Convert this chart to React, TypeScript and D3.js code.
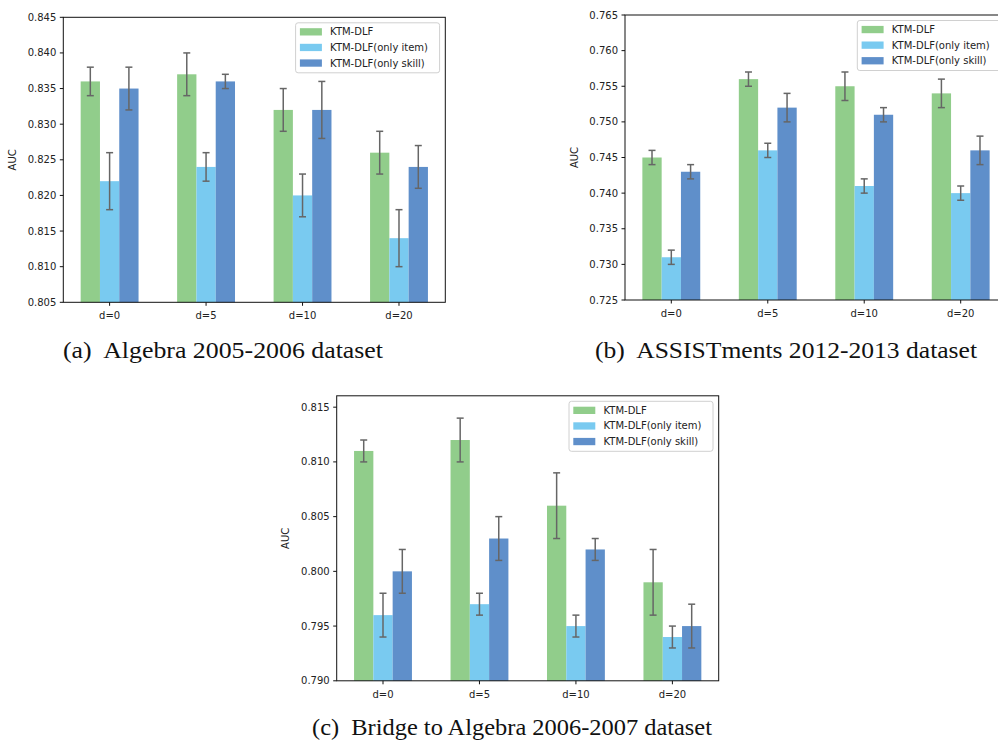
import * as d3 from "d3";

const categories = ["d=0", "d=5", "d=10", "d=20"];
const seriesNames = ["KTM-DLF", "KTM-DLF(only item)", "KTM-DLF(only skill)"];
const seriesColors = ["#91cd8b", "#79caf0", "#5f8fca"];

// (a) Algebra 2005-2006
const algebraFull = [0.836, 0.837, 0.832, 0.826];
const algebraFullErr = [0.002, 0.003, 0.003, 0.003];
const algebraItem = [0.822, 0.824, 0.82, 0.814];
const algebraItemErr = [0.004, 0.002, 0.003, 0.004];
const algebraSkill = [0.835, 0.836, 0.832, 0.824];
const algebraSkillErr = [0.003, 0.001, 0.004, 0.003];

// (b) ASSISTments 2012-2013
const assistFull = [0.745, 0.756, 0.755, 0.754];
const assistFullErr = [0.001, 0.001, 0.002, 0.002];
const assistItem = [0.731, 0.746, 0.741, 0.74];
const assistItemErr = [0.001, 0.001, 0.001, 0.001];
const assistSkill = [0.743, 0.752, 0.751, 0.746];
const assistSkillErr = [0.001, 0.002, 0.001, 0.002];

// (c) Bridge to Algebra 2006-2007
const bridgeFull = [0.811, 0.812, 0.806, 0.799];
const bridgeFullErr = [0.001, 0.002, 0.003, 0.003];
const bridgeItem = [0.796, 0.797, 0.795, 0.794];
const bridgeItemErr = [0.002, 0.001, 0.001, 0.001];
const bridgeSkill = [0.8, 0.803, 0.802, 0.795];
const bridgeSkillErr = [0.002, 0.002, 0.001, 0.002];

const W = 382;
const H = 285;
const barW = 0.2;
const offsets = [-barW, 0, barW];
const font = "'DejaVu Sans', sans-serif";

type PanelProps = {
  left: number;
  top: number;
  yDomain: [number, number];
  values: number[][];
  errors: number[][];
  caption: string;
  captionX: number;
  captionY: number;
  captionW: number;
};

function Panel({ left, top, yDomain, values, errors, caption, captionX, captionY, captionW }: PanelProps) {
  const x = d3.scaleLinear().domain([-0.48, 3.48]).range([0, W]);
  const y = d3.scaleLinear().domain(yDomain).range([H, 0]);
  const ticks = d3
    .range(Math.ceil(yDomain[0] / 0.005 - 1e-6), Math.floor(yDomain[1] / 0.005 + 1e-6) + 1)
    .map((k) => k * 0.005);
  const fmt = d3.format(".3f");
  const legendW = 144;
  const legendX = W - 5.7 - legendW;

  return (
    <g>
      <g transform={`translate(${left},${top})`}>
        {values.map((ser, si) =>
          ser.map((v, ci) => {
            const x0 = x(ci + offsets[si] - barW / 2);
            const x1 = x(ci + offsets[si] + barW / 2);
            return (
              <rect
                key={`b${si}-${ci}`}
                x={x0}
                y={y(v)}
                width={x1 - x0}
                height={H - y(v)}
                fill={seriesColors[si]}
              />
            );
          })
        )}
        {values.map((ser, si) =>
          ser.map((v, ci) => {
            const cx = x(ci + offsets[si]);
            const e = errors[si][ci];
            const yt = y(v + e);
            const yb = y(v - e);
            return (
              <g key={`e${si}-${ci}`} stroke="#666" strokeWidth={1.5}>
                <line x1={cx} x2={cx} y1={yt} y2={yb} />
                <line x1={cx - 3.5} x2={cx + 3.5} y1={yt} y2={yt} />
                <line x1={cx - 3.5} x2={cx + 3.5} y1={yb} y2={yb} />
              </g>
            );
          })
        )}
        <rect x={0} y={0} width={W} height={H} fill="none" stroke="#111" strokeWidth={1} />
        {ticks.map((t) => (
          <g key={t} transform={`translate(0,${y(t)})`}>
            <line x1={-3.5} x2={0} stroke="#111" />
            <text x={-7} dy="0.35em" textAnchor="end" fontFamily={font} fontSize={10} fill="#222">
              {fmt(t)}
            </text>
          </g>
        ))}
        {categories.map((c, ci) => (
          <g key={c} transform={`translate(${x(ci)},${H})`}>
            <line y1={0} y2={3.5} stroke="#111" />
            <text y={17} textAnchor="middle" fontFamily={font} fontSize={10} fill="#222">
              {c}
            </text>
          </g>
        ))}
        <text
          transform={`translate(${-47.5},${H / 2}) rotate(-90)`}
          textAnchor="middle"
          fontFamily={font}
          fontSize={10}
          fill="#222"
        >
          AUC
        </text>
        <g transform={`translate(${legendX},5.5)`}>
          <rect
            x={0}
            y={0}
            width={legendW}
            height={50}
            rx={2.5}
            fill="#fff"
            fillOpacity={0.8}
            stroke="#d0d0d0"
          />
          {seriesNames.map((n, i) => (
            <g key={n} transform={`translate(0,${9 + i * 15.6})`}>
              <rect x={4.3} y={-3.6} width={22} height={7.3} fill={seriesColors[i]} />
              <text x={34.5} dy="0.35em" fontFamily={font} fontSize={10} fill="#222">
                {n}
              </text>
            </g>
          ))}
        </g>
      </g>
      <text
        x={captionX - captionW / 2}
        y={captionY}
        textLength={captionW}
        lengthAdjust="spacingAndGlyphs"
        fontFamily="'Liberation Serif', 'DejaVu Serif', serif"
        fontSize={24}
        fill="#111"
        style={{ whiteSpace: "pre" }}
      >
        {caption}
      </text>
    </g>
  );
}

export default function App() {
  return (
    <div style={{ position: "fixed", left: 0, top: 0 }}>
      <svg width={998} height={740} style={{ display: "block", background: "#fff" }}>
        <Panel
          left={63.3}
          top={17.3}
          yDomain={[0.805, 0.845]}
          values={[algebraFull, algebraItem, algebraSkill]}
          errors={[algebraFullErr, algebraItemErr, algebraSkillErr]}
          caption="(a)  Algebra 2005-2006 dataset"
          captionX={223}
          captionY={358}
          captionW={320}
        />
        <Panel
          left={625}
          top={15}
          yDomain={[0.725, 0.765]}
          values={[assistFull, assistItem, assistSkill]}
          errors={[assistFullErr, assistItemErr, assistSkillErr]}
          caption="(b)  ASSISTments 2012-2013 dataset"
          captionX={786}
          captionY={358}
          captionW={382}
        />
        <Panel
          left={336.7}
          top={395.8}
          yDomain={[0.79, 0.81604]}
          values={[bridgeFull, bridgeItem, bridgeSkill]}
          errors={[bridgeFullErr, bridgeItemErr, bridgeSkillErr]}
          caption="(c)  Bridge to Algebra 2006-2007 dataset"
          captionX={512}
          captionY={735}
          captionW={400}
        />
      </svg>
    </div>
  );
}
